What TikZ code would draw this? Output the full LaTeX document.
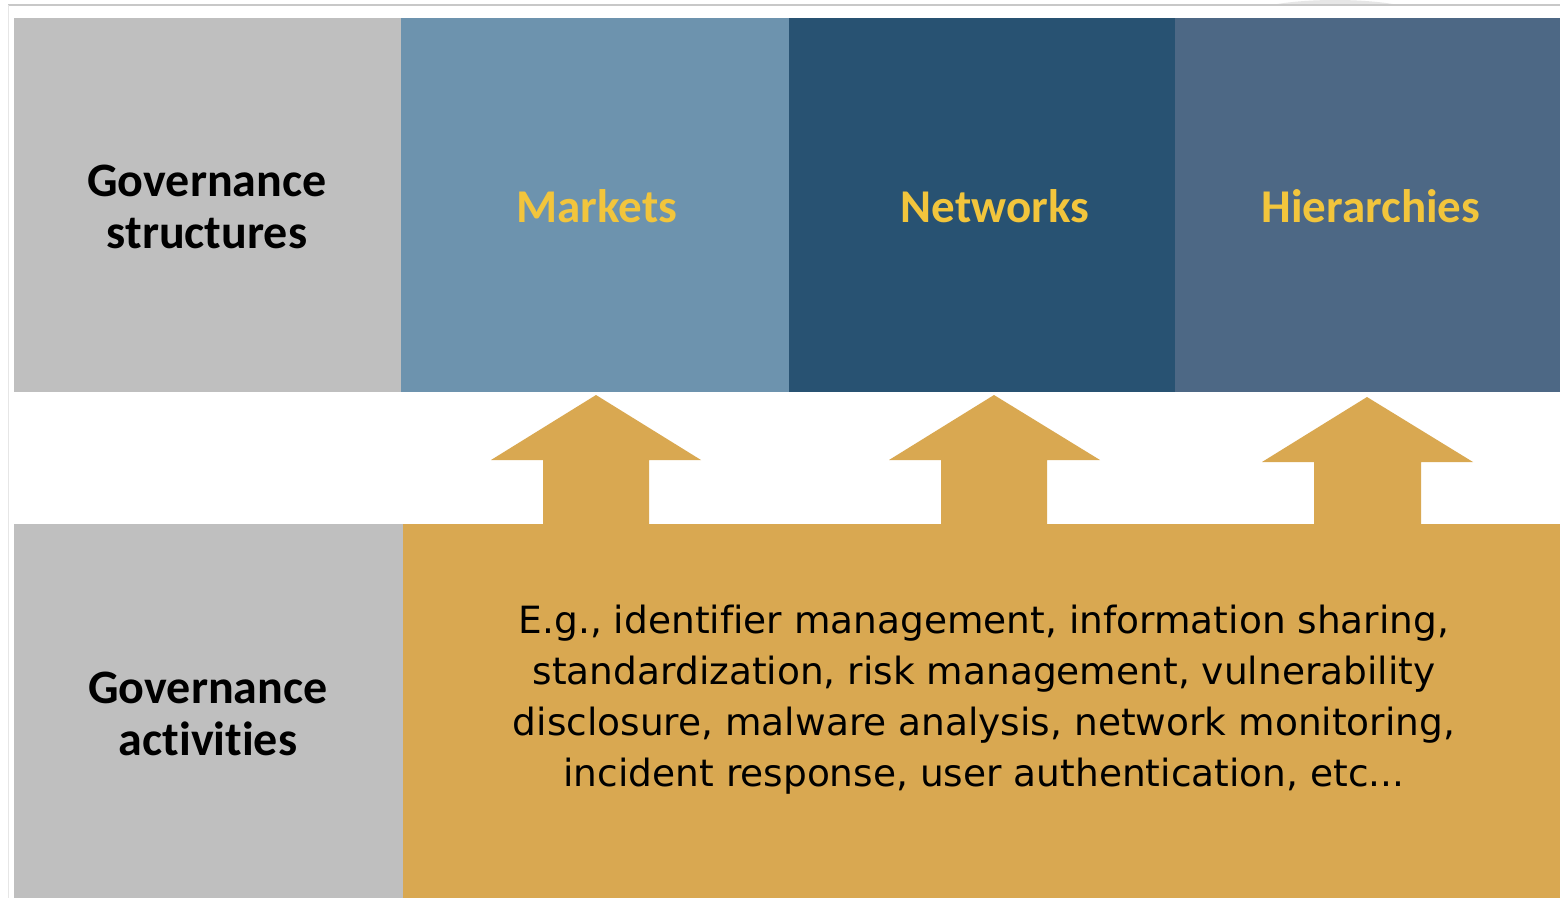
\documentclass[tikz,border=0pt]{standalone}
\usepackage{fontspec}
\setmainfont[Ligatures=NoCommon]{DejaVu Sans}
\newfontfamily\hdfont[Ligatures=NoCommon]{Carlito}
\definecolor{boxgray}{HTML}{BFBFBF}
\definecolor{mktblue}{HTML}{6D93AE}
\definecolor{netblue}{HTML}{285272}
\definecolor{hierblue}{HTML}{4D6885}
\definecolor{goldfill}{HTML}{D9A851}
\definecolor{labelyellow}{HTML}{F2C53C}
\definecolor{framegray}{HTML}{C8C8C8}
\definecolor{faintgray}{HTML}{E6E6E6}
\begin{document}
\begin{tikzpicture}[x=1pt,y=-1pt,
  panel/.style={rectangle, inner sep=0pt, outer sep=0pt, anchor=north west},
  sidelabel/.style={font=\hdfont\bfseries\fontsize{48}{52}\selectfont, align=center, text=black},
  toplabel/.style={font=\hdfont\bfseries\fontsize{47}{52}\selectfont, text=labelyellow},
  bodytext/.style={font=\fontsize{37.5}{51}\selectfont, align=center, text=black},
  uparrow/.style={fill=goldfill}
]
\useasboundingbox (0,0) rectangle (1560,898);
\fill[white] (0,0) rectangle (1560,898);
% faint background shape at top
\begin{scope}
\clip (0,0) rectangle (1560,5);
\fill[faintgray] (1335,14) ellipse [x radius=82, y radius=14];
\end{scope}
\draw[framegray, line width=1.2pt] (8,5) -- (1560,5);
\draw[faintgray, line width=1pt] (8,5) -- (8,898);
% top row
\node[panel, fill=boxgray, minimum width=387pt, minimum height=374pt] (gs) at (14,18) {};
\node[panel, fill=mktblue, minimum width=388pt, minimum height=374pt] (mkt) at (401,18) {};
\node[panel, fill=netblue, minimum width=386pt, minimum height=374pt] (net) at (789,18) {};
\node[panel, fill=hierblue, minimum width=385pt, minimum height=374pt] (hier) at (1175,18) {};
% bottom row
\node[panel, fill=boxgray, minimum width=389pt, minimum height=374pt] (ga) at (14,524) {};
\node[panel, fill=goldfill, minimum width=1157pt, minimum height=374pt] (act) at (403,524) {};
% labels
\node[sidelabel] (gslabel) at (207,207) {Governance\\structures};
\node[sidelabel] (galabel) at (208,714) {Governance\\activities};
\node[toplabel] (mktlabel) at (597,206) {Markets};
\node[toplabel] (netlabel) at (995,206) {Networks};
\node[toplabel] (hierlabel) at (1371,206) {Hierarchies};
\node[bodytext] (body) at (984,700) {E.g., identifier management, information sharing,\\standardization, risk management, vulnerability\\disclosure, malware analysis, network monitoring,\\incident response, user authentication, etc...};
% arrows
\fill[uparrow] (543,526) -- (543,460) -- (491,460) -- (596,395) -- (701,460) -- (649,460) -- (649,526) -- cycle;
\fill[uparrow] (941,526) -- (941,460) -- (889,460) -- (994,395) -- (1100,460) -- (1047,460) -- (1047,526) -- cycle;
\fill[uparrow] (1314,526) -- (1314,462) -- (1262,462) -- (1367,397) -- (1473,462) -- (1421,462) -- (1421,526) -- cycle;
\end{tikzpicture}
\end{document}
